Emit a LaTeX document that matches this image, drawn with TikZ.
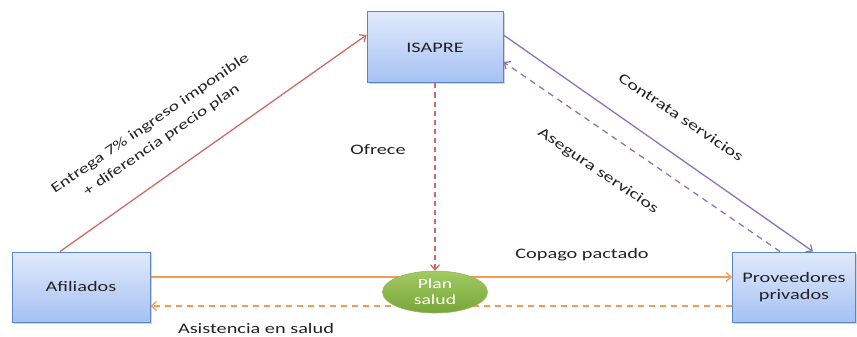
\documentclass[tikz,border=0pt]{standalone}
\usepackage{fontspec}
\setmainfont[FakeStretch=1.4]{Carlito}
\usetikzlibrary{arrows.meta,shadows,shapes.geometric}
\definecolor{boxtop}{HTML}{E0EAFC}
\definecolor{boxbot}{HTML}{A6C1F3}
\definecolor{boxedge}{HTML}{5A86C6}
\definecolor{redline}{HTML}{CF6A66}
\definecolor{purpline}{HTML}{8F73B8}
\definecolor{orline}{HTML}{F59A55}
\definecolor{greentop}{HTML}{A2CB62}
\definecolor{greenbot}{HTML}{78A53A}
\definecolor{txt}{HTML}{222222}
\tikzset{
  actor/.style={draw=boxedge, line width=1pt, top color=boxtop, bottom color=boxbot,
    drop shadow={shadow xshift=1.5pt, shadow yshift=-1.5pt, opacity=0.35},
    align=center, text=txt, inner sep=0pt},
  plan/.style={ellipse, draw=greenbot!80, line width=0.6pt, top color=greentop, bottom color=greenbot,
    minimum width=105pt, minimum height=42pt, inner sep=0pt, align=center, text=white},
  lbl/.style={text=txt, align=center, inner sep=1pt},
  tip/.style={-{Straight Barb[length=5pt,width=9pt]}},
  flow/.style={line width=1.3pt, tip}
}
\begin{document}
\begin{tikzpicture}[x=1pt, y=-1pt, font=\fontsize{14.5}{17.5}\selectfont]
\useasboundingbox (0,0) rectangle (857,337);

% the three actors
\node[actor, minimum width=136pt, minimum height=71pt] (isapre) at (435,47.5) {ISAPRE};
\node[actor, minimum width=138pt, minimum height=70pt] (afil) at (81,287) {Afiliados};
\node[actor, minimum width=123pt, minimum height=70pt] (prov) at (794,287) {Proveedores\\privados};

% flows between affiliates and providers (drawn first, behind the plan)
\draw[flow, orline] ([yshift=10pt]afil.east) -- ([yshift=10pt]prov.west);
\draw[flow, orline, dashed, dash pattern=on 6pt off 5pt] ([yshift=-19pt]prov.west) -- ([yshift=-19pt]afil.east);

\node[plan, font=\fontsize{14}{16}\selectfont] (plan) at (435,292) {Plan\\salud};

% flows with the ISAPRE
\draw[flow, redline] ([xshift=-21pt]afil.north) -- ([yshift=12.5pt]isapre.west);
\draw[flow, redline, dashed, dash pattern=on 5pt off 4pt] (isapre.south) -- (plan.north);
\draw[flow, purpline] ([yshift=12.5pt]isapre.east) -- ([xshift=19pt]prov.north);
\draw[flow, purpline, dashed, dash pattern=on 6pt off 5pt] ([xshift=-14pt]prov.north) -- ([yshift=-14.5pt]isapre.east);

% labels
\node[lbl, rotate=34.5, font=\fontsize{14}{20}\selectfont] (lentrega) at (156,132) {Entrega 7\% ingreso imponible\\+ diferencia precio plan};
\node[lbl] (lofrece) at (378,150) {Ofrece};
\node[lbl, rotate=-34] (lcontrata) at (681,117) {Contrata servicios};
\node[lbl, rotate=-34] (lasegura) at (598,171) {Asegura servicios};
\node[lbl] (lcopago) at (582,255) {Copago pactado};
\node[lbl] (lasist) at (256,329) {Asistencia en salud};
\end{tikzpicture}
\end{document}
